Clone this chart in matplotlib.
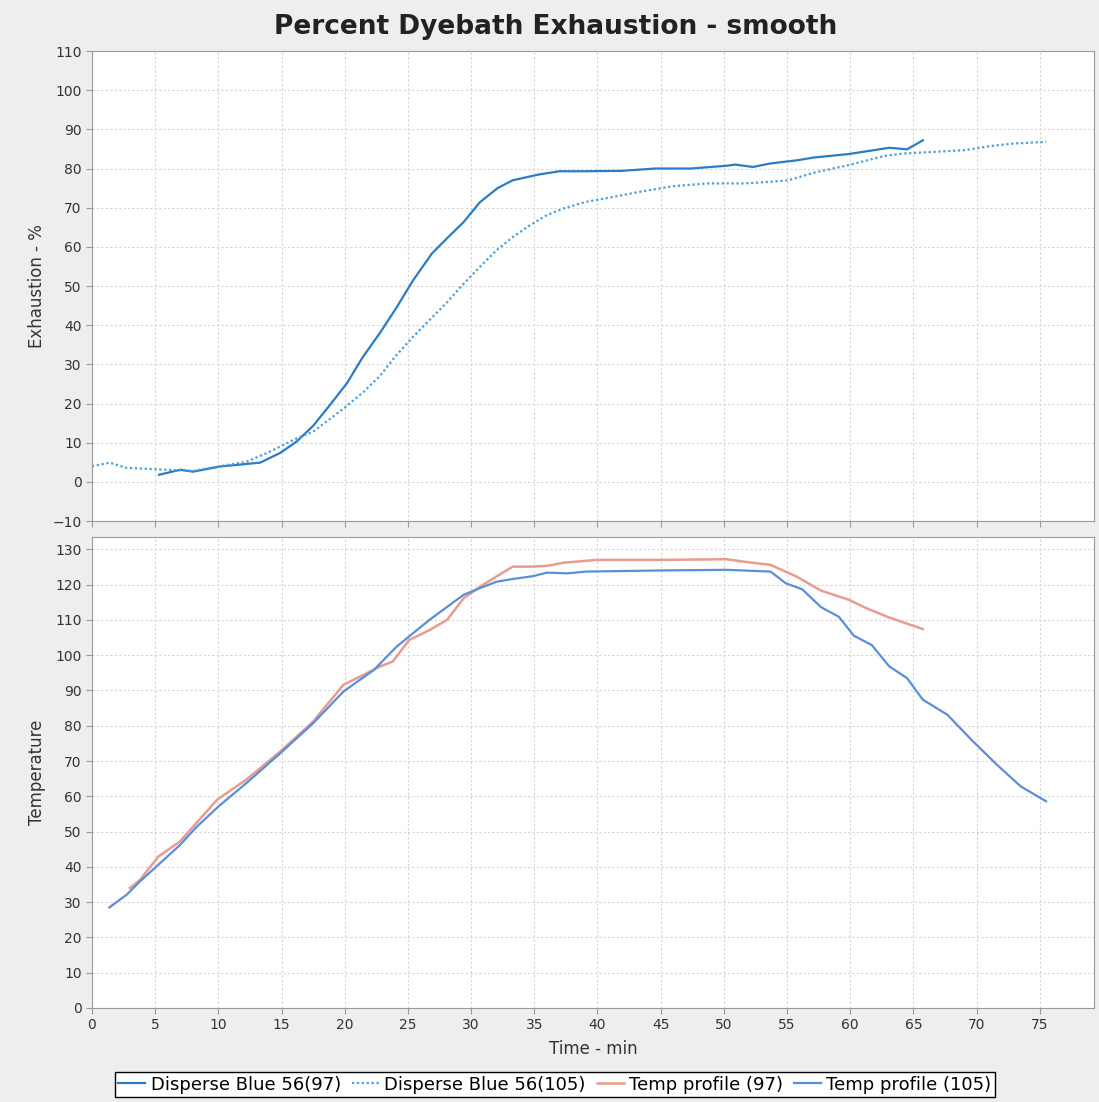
import matplotlib
matplotlib.use("Agg")
import matplotlib.pyplot as plt

# exhaustion curves (time in min, exhaustion in %)
t_db97 = [5.3, 7.0, 8.0, 10.1, 12.3, 13.3, 14.9, 16.2, 17.5, 18.8, 20.2, 21.4, 22.8, 24.1,
          25.4, 26.9, 28.1, 29.4, 30.7, 32.1, 33.3, 35.4, 37.0, 38.6, 41.9, 44.6, 47.4,
          50.2, 50.9, 52.3, 53.7, 55.8, 57.1, 59.9, 61.3, 63.1, 64.5, 65.75]
e_db97 = [1.8, 3.1, 2.6, 3.9, 4.6, 4.9, 7.4, 10.3, 14.3, 19.5, 25.3, 31.7, 38.1, 44.5,
          51.4, 58.3, 62.2, 66.3, 71.4, 75.0, 77.0, 78.5, 79.3, 79.3, 79.4, 80.0, 80.0,
          80.7, 81.0, 80.4, 81.3, 82.1, 82.8, 83.7, 84.4, 85.3, 84.9, 87.2]

t_db105 = [0.0, 1.4, 2.7, 5.1, 8.0, 10.1, 12.2, 13.8, 16.2, 17.5, 20.1, 21.5, 22.8, 24.1,
           25.4, 26.7, 28.0, 29.3, 30.7, 32.0, 33.3, 34.65, 36.0, 37.3, 39.1, 40.5, 43.25,
           46.0, 48.8, 51.6, 53.7, 55.1, 57.1, 59.9, 62.7, 64.1, 66.9, 69.1, 71.0, 73.0, 75.5]
e_db105 = [4.0, 4.9, 3.6, 3.2, 2.8, 4.0, 5.1, 7.3, 11.1, 12.8, 19.2, 23.0, 27.1, 32.4,
           37.0, 41.3, 45.5, 50.2, 54.9, 59.1, 62.5, 65.5, 68.1, 69.8, 71.5, 72.3, 74.0,
           75.5, 76.2, 76.2, 76.6, 77.0, 78.9, 80.9, 83.2, 83.8, 84.3, 84.7, 85.7, 86.4, 86.8]

# temperature profiles
t_tp97 = [3.0, 3.8, 5.25, 6.96, 9.9, 10.65, 12.2, 14.9, 17.5, 19.9, 21.2, 22.8, 23.8, 25.1,
          26.7, 28.1, 29.4, 30.7, 32.0, 33.3, 34.65, 36.0, 37.3, 39.9, 44.6, 50.2, 51.6,
          53.7, 55.75, 57.7, 59.9, 61.3, 63.0, 65.75]
c_tp97 = [34.0, 36.3, 42.9, 47.2, 59.0, 60.9, 64.7, 72.7, 81.2, 91.6, 93.9, 96.8, 98.2, 104.3,
          107.1, 110.0, 116.1, 119.4, 122.3, 125.1, 125.1, 125.3, 126.2, 127.0, 127.0, 127.2,
          126.5, 125.6, 122.3, 118.3, 115.7, 113.3, 110.8, 107.4]

t_tp105 = [1.37, 2.74, 3.8, 5.1, 6.96, 8.3, 10.0, 12.2, 14.9, 17.5, 19.9, 22.3, 24.1, 26.7,
           29.4, 30.7, 32.0, 33.3, 34.9, 36.0, 37.6, 39.1, 44.6, 50.2, 53.7, 54.9, 56.2,
           57.7, 59.1, 60.3, 61.7, 63.1, 64.5, 65.75, 67.7, 69.6, 71.6, 73.5, 75.5]
c_tp105 = [28.5, 32.1, 35.9, 40.1, 46.2, 51.4, 57.1, 63.7, 72.2, 80.7, 89.7, 95.8, 102.4, 110.0,
           117.1, 119.0, 120.8, 121.6, 122.4, 123.4, 123.2, 123.7, 124.0, 124.2, 123.7, 120.4,
           118.7, 113.6, 110.9, 105.5, 102.9, 96.8, 93.5, 87.4, 83.1, 76.0, 69.0, 62.8, 58.6]

labels = ["Disperse Blue 56(97)", "Disperse Blue 56(105)", "Temp profile (97)", "Temp profile (105)"]

plt.rcParams['font.family'] = ['DejaVu Sans']

fig = plt.figure(figsize=(10.99, 11.02), dpi=100, facecolor="#eeeeee")
ax1 = fig.add_axes([0.0837, 0.5272, 0.9118, 0.4265])
ax2 = fig.add_axes([0.0837, 0.0853, 0.9118, 0.4274])

for ax in (ax1, ax2):
    ax.set_facecolor("white")
    ax.set_xlim(0, 79.3)
    ax.set_xticks(range(0, 80, 5))
    ax.grid(True, color="#d4d4d4", linestyle=(0, (2, 2)), linewidth=0.8)
    ax.set_axisbelow(True)
    for s in ax.spines.values():
        s.set_color("#999999")
    ax.tick_params(direction="out", length=4, color="#999999", labelsize=10, labelcolor="#333333")

l1, = ax1.plot(t_db97, e_db97, color="#2a7cc4", lw=1.6)
l2, = ax1.plot(t_db105, e_db105, color="#4a9ede", lw=1.6, linestyle=(0, (1, 1.2)))
ax1.set_ylim(-10, 110)
ax1.set_yticks(range(-10, 111, 10))
ax1.tick_params(axis="x", labelbottom=False)
ax1.set_ylabel("Exhaustion - %", fontsize=12, color="#333333")
ax1.yaxis.set_label_coords(-0.046, 0.5)

l3, = ax2.plot(t_tp97, c_tp97, color="#e89c90", lw=1.8)
l4, = ax2.plot(t_tp105, c_tp105, color="#5b8ed8", lw=1.6)
ax2.set_ylim(0, 133.5)
ax2.set_yticks(range(0, 131, 10))
ax2.set_ylabel("Temperature", fontsize=12, color="#333333")
ax2.yaxis.set_label_coords(-0.046, 0.5)
ax2.set_xlabel("Time - min", fontsize=12, color="#333333")
ax2.xaxis.set_label_coords(0.5, -0.068)

fig.text(0.506, 1 - 27 / 1102, "Percent Dyebath Exhaustion - smooth", ha="center", va="center",
         fontsize=19, fontweight="bold", color="#222222")

leg = fig.legend([l1, l2, l3, l4], labels, loc="lower center", bbox_to_anchor=(0.505, -0.004),
                 ncol=4, fontsize=13, frameon=True, fancybox=False, handlelength=1.5,
                 handletextpad=0.3, columnspacing=0.6, borderpad=0.2)
leg.get_frame().set_edgecolor("black")
leg.get_frame().set_facecolor("white")
leg.get_frame().set_alpha(1)

fig.savefig("out.png", dpi=100, facecolor=fig.get_facecolor())
